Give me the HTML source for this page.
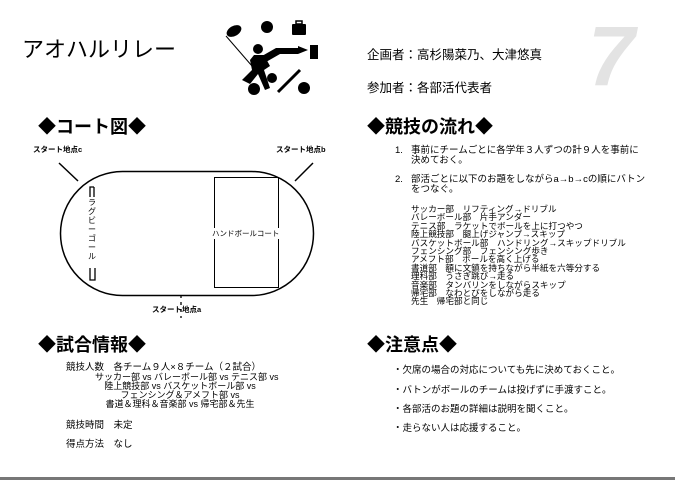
<!DOCTYPE html>
<html><head><meta charset="utf-8"><style>
body{margin:0;background:#fff;}
#p{position:relative;width:675px;height:480px;overflow:hidden;font-family:"Liberation Sans","Noto Sans CJK JP",sans-serif;color:#000;}
.a{position:absolute;white-space:nowrap;}
.h{font-size:18px;font-weight:bold;}
.s{font-size:8.6px;line-height:8.4px;}
.n{font-size:9.5px;}
</style></head><body><div id="p">
<div class="a" style="left:22px;top:32px;font-size:22px;">アオハルリレー</div>
<div class="a" style="left:588px;top:8px;font-size:84px;font-weight:bold;font-style:italic;color:#e3e3e3;">7</div>
<div class="a" style="left:367px;top:44px;font-size:12.5px;">企画者：高杉陽菜乃、大津悠真</div>
<div class="a" style="left:367px;top:77px;font-size:12.5px;">参加者：各部活代表者</div>

<svg class="a" style="left:220px;top:18px" width="110" height="80" viewBox="0 0 110 80">
<ellipse cx="14" cy="13" rx="8" ry="5" transform="rotate(-30 14 13)"/>
<circle cx="47" cy="9" r="6"/>
<rect x="72" y="6" width="14" height="11" rx="1"/><rect x="76" y="3" width="6" height="3" fill="none" stroke="#000" stroke-width="1.5"/>
<rect x="90" y="27" width="8" height="14"/>
<line x1="6" y1="18" x2="32" y2="48" stroke="#000" stroke-width="1"/>
<circle cx="38" cy="31" r="5"/>
<path d="M34 37 L44 37 L50 48 L44 52 L50 70 L45 72 L38 56 L30 66 L22 62 L32 52 L30 42 Z"/>
<path d="M42 38 L56 30 L78 30 L78 28 L88 32 L78 36 L60 36 L46 44Z"/>
<circle cx="52" cy="60" r="5"/>
<circle cx="34" cy="71" r="6"/>
<line x1="58" y1="74" x2="80" y2="52" stroke="#000" stroke-width="3"/>
<circle cx="84" cy="70" r="6"/>
</svg>

<div class="a h" style="left:38px;top:113px;">◆コート図◆</div>
<div class="a h" style="left:367px;top:113px;">◆競技の流れ◆</div>
<div class="a h" style="left:38px;top:331px;">◆試合情報◆</div>
<div class="a h" style="left:367px;top:331px;">◆注意点◆</div>

<svg class="a" style="left:0;top:0" width="675" height="470">
<rect x="60.5" y="171.5" width="253" height="124" rx="62" fill="none" stroke="#000" stroke-width="1.5"/>
<line x1="59" y1="163" x2="78" y2="181" stroke="#000" stroke-width="1.5"/>
<line x1="313" y1="163" x2="295" y2="181" stroke="#000" stroke-width="1.5"/>
<line x1="181" y1="295" x2="181" y2="318" stroke="#000" stroke-width="1.3" stroke-dasharray="3,4"/>
<rect x="214.5" y="177.5" width="64" height="110" fill="none" stroke="#000" stroke-width="1"/>
<path d="M94 187 H90 V197 M94 187 V197" fill="none" stroke="#000" stroke-width="1.3"/>
<path d="M90 268 V280 H95 V268" fill="none" stroke="#000" stroke-width="1.3"/>
</svg>
<div style="position:absolute;left:0;bottom:0;width:675px;height:3px;background:#777;"></div>
<div class="a" style="left:212px;top:228px;font-size:7.5px;background:#fff;">ハンドボールコート</div>
<div class="a" style="left:88px;top:198px;font-size:8px;width:8px;line-height:9px;white-space:normal;">ラグビーゴール</div>
<div class="a" style="left:33px;top:144px;font-size:7.5px;font-weight:bold;">スタート地点c</div>
<div class="a" style="left:276px;top:144px;font-size:7.5px;font-weight:bold;">スタート地点b</div>
<div class="a" style="left:152px;top:304px;font-size:7.5px;font-weight:bold;">スタート地点a</div>

<div class="a n" style="left:395px;top:146px;line-height:10px;">1.</div>
<div class="a n" style="left:411px;top:146px;line-height:10px;">事前にチームごとに各学年３人ずつの計９人を事前に<br>決めておく。</div>
<div class="a n" style="left:395px;top:175px;line-height:10px;">2.</div>
<div class="a n" style="left:411px;top:175px;line-height:10px;">部活ごとに以下のお題をしながらa→b→cの順にバトン<br>をつなぐ。</div>
<div class="a s" style="left:411px;top:205px;">サッカー部　リフティング→ドリブル<br>バレーボール部　片手アンダー<br>テニス部　ラケットでボールを上に打つやつ<br>陸上競技部　腿上げジャンプ→スキップ<br>バスケットボール部　ハンドリング→スキップドリブル<br>フェンシング部　フェンシング歩き<br>アメフト部　ボールを高く上げる<br>書道部　額に文鎮を持ちながら半紙を六等分する<br>理科部　うさぎ跳び→走る<br>音楽部　タンバリンをしながらスキップ<br>帰宅部　なわとびをしながら走る<br>先生　帰宅部と同じ</div>

<div class="a n" style="left:66px;top:359px;">競技人数　各チーム９人×８チーム（２試合）</div>
<div class="a" style="left:95px;width:170px;top:373px;font-size:9px;line-height:9px;text-align:center;">サッカー部 vs バレーボール部 vs テニス部 vs<br>陸上競技部 vs バスケットボール部 vs<br>フェンシング＆アメフト部 vs<br>書道＆理科＆音楽部 vs 帰宅部＆先生</div>
<div class="a n" style="left:66px;top:417px;">競技時間　未定</div>
<div class="a n" style="left:66px;top:436px;">得点方法　なし</div>

<div class="a n" style="left:393px;top:362px;">・欠席の場合の対応についても先に決めておくこと。</div>
<div class="a n" style="left:393px;top:382px;">・バトンがボールのチームは投げずに手渡すこと。</div>
<div class="a n" style="left:393px;top:401px;">・各部活のお題の詳細は説明を聞くこと。</div>
<div class="a n" style="left:393px;top:420px;">・走らない人は応援すること。</div>
</div></body></html>
